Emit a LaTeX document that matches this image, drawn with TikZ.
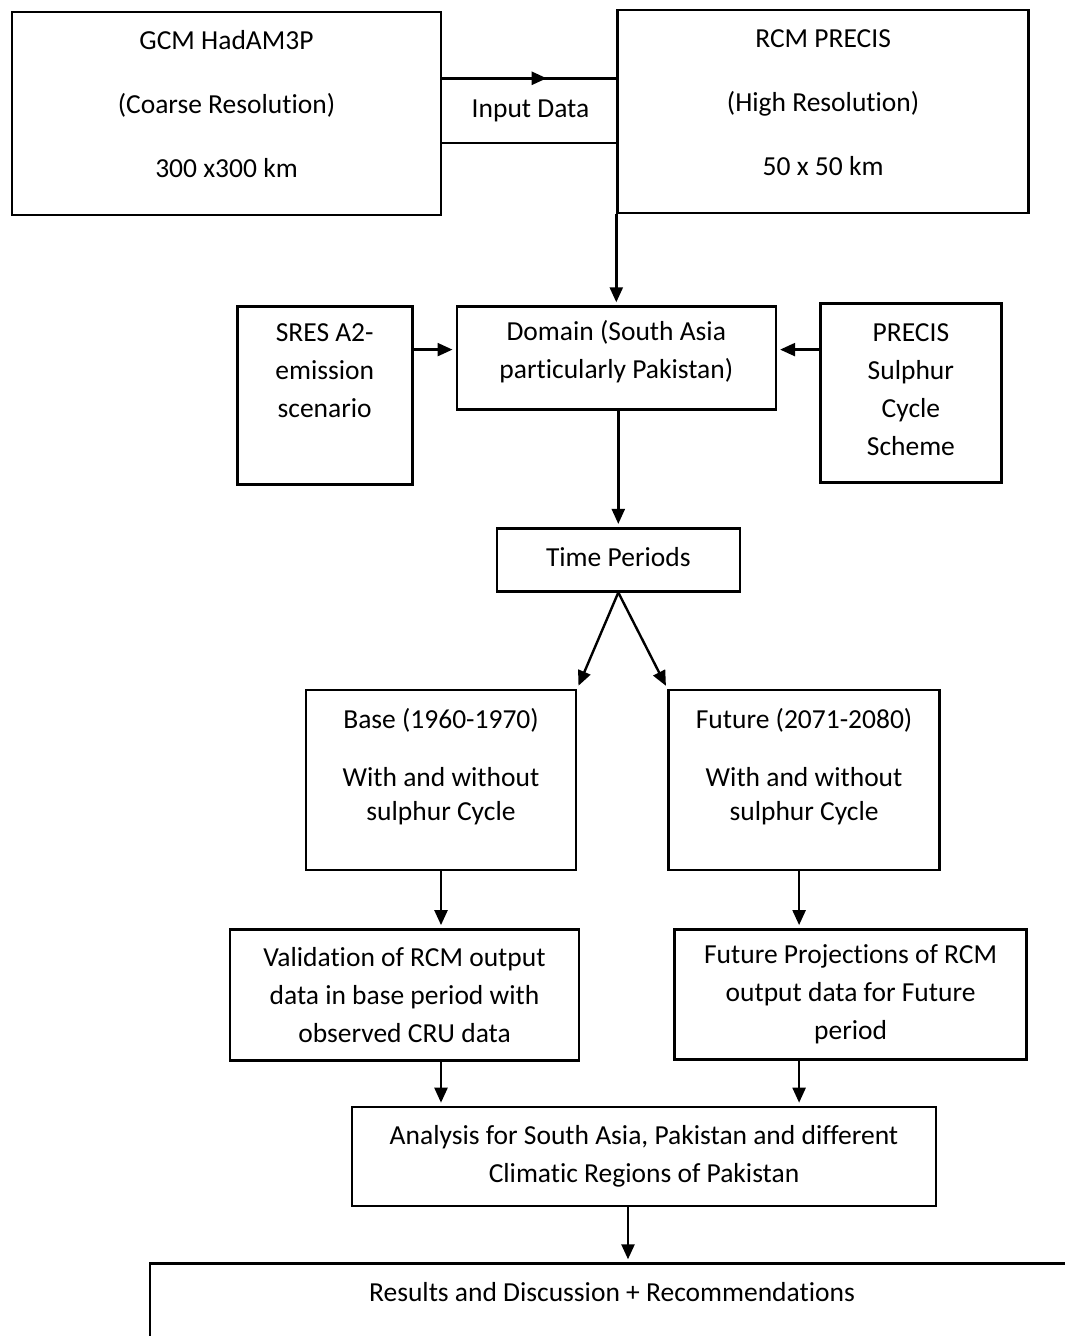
\documentclass[tikz,border=0pt]{standalone}
\usepackage{fontspec}
\setmainfont[Ligatures={TeX,NoCommon}]{Carlito}
\usetikzlibrary{positioning,arrows.meta,decorations.markings}
\tikzset{
  boite/.style={
    rectangle,
    draw=black,line width=2.6pt,
    align=center,
    inner sep=4pt,
    font=\fontsize{27.5}{38}\selectfont},
  remonte/.style={execute at end node={\rule[-#1]{0pt}{#1}}},
  texte/.style={
    align=center,
    font=\fontsize{27.5}{38}\selectfont},
  line/.style = {draw,line width=2.4pt,shorten >=3pt,-{Triangle[length=15pt,width=13pt]}},
  midline/.style = {draw,line width=2.4pt,postaction={decorate},
    decoration={markings,mark=at position 0.6 with {\arrow{Triangle[length=15pt,width=13pt]}}}},
}

\begin{document}
\begin{tikzpicture}[x=1pt,y=-1pt]
  \clip (0,0) rectangle (1065,1336);
  \node[boite,remonte=20pt,minimum width=429pt,minimum height=203pt](gcm_hadam) at (226.5,113.5)
    {GCM HadAM3P\\[26pt](Coarse Resolution)\\[26pt]300 x300 km};
  \node[boite,remonte=17pt,minimum width=411pt,minimum height=203pt](rcm_precis)[right=174pt of gcm_hadam,yshift=2pt]
    {RCM PRECIS\\[26pt](High Resolution)\\[26pt]50 x 50 km};
  \node[texte,minimum width=176pt,minimum height=64pt](input_data)[right=0pt of gcm_hadam,yshift=3pt] {Input Data};
  \draw[midline] (gcm_hadam.east |- input_data.north) -- (rcm_precis.west |- input_data.north);
  \draw[line width=2.4pt] (gcm_hadam.east |- input_data.south) -- (rcm_precis.west |- input_data.south);
  \node[boite,remonte=17pt,minimum width=319pt,minimum height=103pt](domain)[below=91pt of rcm_precis.south west]
    {Domain (South Asia\\particularly Pakistan)};
  \draw[line] (rcm_precis.south west) -- (domain.north);
  \node[boite,remonte=50pt,minimum width=175pt,minimum height=178pt](sres)[left=42pt of domain.north west,anchor=north east]
    {SRES A2-\\emission\\scenario};
  \node[boite,remonte=8pt,minimum width=181pt,minimum height=179pt](precis_sulphur)[right=42pt of domain.north east,anchor=north west,yshift=3pt]
    {PRECIS\\Sulphur\\Cycle\\Scheme};
  \coordinate (domain_left) at ([yshift=8.5pt]domain.west);
  \coordinate (domain_right) at ([yshift=8.5pt]domain.east);
  \draw[line] (sres.east |- domain_left) -- (domain_left);
  \draw[line] (precis_sulphur.west |- domain_right) -- (domain_right);
  \node[boite,remonte=6pt,minimum width=243pt,minimum height=63pt](time_periods)[below=116pt of domain,xshift=2pt] {Time Periods};
  \draw[line] (domain.south -| time_periods.north) -- (time_periods.north);
  \node[boite,remonte=30pt,minimum width=270pt,minimum height=180pt](base_period)[below=96pt of time_periods.south,anchor=north east,xshift=-41pt]
    {Base (1960-1970)\\[20pt]With and without\\[-4pt]sulphur Cycle};
  \node[boite,remonte=30pt,minimum width=271pt,minimum height=180pt](future_period)[below=96pt of time_periods.south,anchor=north west,xshift=49pt]
    {Future (2071-2080)\\[20pt]With and without\\[-4pt]sulphur Cycle};
  \draw[line] (time_periods.south) -- (base_period.north east);
  \draw[line] (time_periods.south) -- (future_period.north west);
  \node[boite,minimum width=349pt,minimum height=131pt](validation)[below=57pt of base_period,xshift=-36.5pt]
    {Validation of RCM output\\data in base period with\\observed CRU data};
  \node[boite,minimum width=352pt,minimum height=130pt](projections)[below=57pt of future_period,xshift=46.5pt]
    {Future Projections of RCM\\output data for Future\\period};
  \coordinate (future_out) at ([xshift=-5pt]future_period.south);
  \draw[line] (base_period.south) -- (base_period.south |- validation.north);
  \draw[line] (future_out) -- (future_out |- projections.north);
  \node[boite,minimum width=584pt,minimum height=99pt](analysis)[below=44pt of validation.south,xshift=239.5pt]
    {Analysis for South Asia, Pakistan and different\\Climatic Regions of Pakistan};
  \draw[line] (validation.south -| base_period.south) -- (base_period.south |- analysis.north);
  \draw[line] (projections.south -| future_out) -- (future_out |- analysis.north);
  \node[boite,remonte=124pt,minimum width=924pt,minimum height=180pt](results)[below=55pt of analysis.south west,anchor=north west,xshift=-202pt]
    {Results and Discussion + Recommendations};
  \coordinate (analysis_out) at ([xshift=-16pt]analysis.south);
  \draw[line] (analysis_out) -- (analysis_out |- results.north);
\end{tikzpicture}
\end{document}
